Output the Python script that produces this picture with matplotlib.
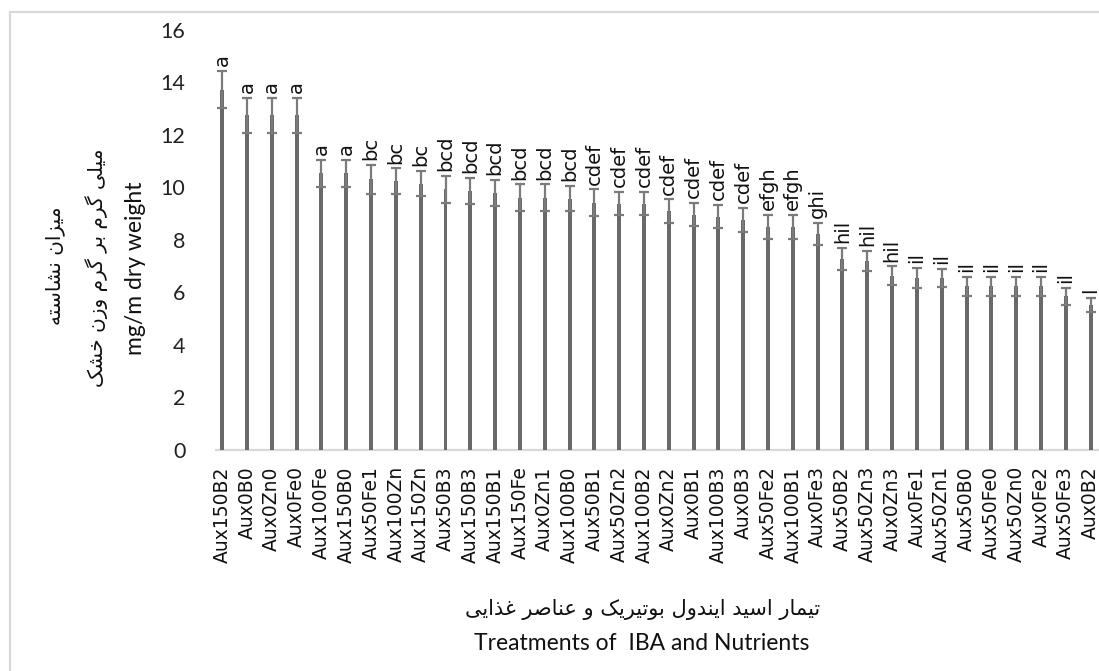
import numpy as np
import matplotlib
matplotlib.use("Agg")
import matplotlib.pyplot as plt
from matplotlib.patches import Rectangle


# ---------------------------------------------------------
# data
# ---------------------------------------------------------

treatments = [
    "Aux150B2", "Aux0B0", "Aux0Zn0", "Aux0Fe0", "Aux100Fe", "Aux150B0",
    "Aux50Fe1", "Aux100Zn", "Aux150Zn", "Aux50B3", "Aux150B3", "Aux150B1",
    "Aux150Fe", "Aux0Zn1", "Aux100B0", "Aux50B1", "Aux50Zn2", "Aux100B2",
    "Aux0Zn2", "Aux0B1", "Aux100B3", "Aux0B3", "Aux50Fe2", "Aux100B1",
    "Aux0Fe3", "Aux50B2", "Aux50Zn3", "Aux0Zn3", "Aux0Fe1", "Aux50Zn1",
    "Aux50B0", "Aux50Fe0", "Aux50Zn0", "Aux0Fe2", "Aux50Fe3", "Aux0B2",
]

starch = [
    13.73, 12.75, 12.75, 12.75, 10.53, 10.53, 10.30, 10.23, 10.14, 9.92,
    9.86, 9.78, 9.61, 9.61, 9.57, 9.42, 9.38, 9.38, 9.08, 8.95,
    8.88, 8.76, 8.48, 8.48, 8.21, 7.26, 7.20, 6.63, 6.54, 6.53,
    6.22, 6.22, 6.22, 6.22, 5.84, 5.51,
]

errors = [
    0.72, 0.66, 0.66, 0.66, 0.52, 0.52, 0.54, 0.49, 0.48, 0.51,
    0.51, 0.49, 0.50, 0.50, 0.48, 0.50, 0.45, 0.45, 0.46, 0.44,
    0.45, 0.47, 0.46, 0.46, 0.42, 0.42, 0.38, 0.35, 0.37, 0.35,
    0.35, 0.35, 0.35, 0.35, 0.32, 0.28,
]

groups = [
    "a", "a", "a", "a", "a", "a", "bc", "bc", "bc", "bcd",
    "bcd", "bcd", "bcd", "bcd", "bcd", "cdef", "cdef", "cdef", "cdef", "cdef",
    "cdef", "cdef", "efgh", "efgh", "ghi", "hil", "hil", "hil", "il", "il",
    "il", "il", "il", "il", "il", "l",
]

y_ticks = [0, 2, 4, 6, 8, 10, 12, 14, 16]

ylabel_fa_1 = "میزان نشاسته"
ylabel_fa_2 = "میلی گرم بر گرم وزن خشک"
ylabel_en = "mg/m dry weight"
xlabel_fa = "تیمار اسید ایندول بوتیریک و عناصر غذایی"
xlabel_en = "Treatments of  IBA and Nutrients"


# ---------------------------------------------------------
# minimal persian shaping (matplotlib has no text shaping)
# ---------------------------------------------------------

FORMS = {
    # iso, fin, ini, med
    "ا": ("\uFE8D", "\uFE8E", None, None),
    "د": ("\uFEA9", "\uFEAA", None, None),
    "ذ": ("\uFEAB", "\uFEAC", None, None),
    "ر": ("\uFEAD", "\uFEAE", None, None),
    "ز": ("\uFEAF", "\uFEB0", None, None),
    "و": ("\uFEED", "\uFEEE", None, None),
    "ب": ("\uFE8F", "\uFE90", "\uFE91", "\uFE92"),
    "ت": ("\uFE95", "\uFE96", "\uFE97", "\uFE98"),
    "خ": ("\uFEA5", "\uFEA6", "\uFEA7", "\uFEA8"),
    "س": ("\uFEB1", "\uFEB2", "\uFEB3", "\uFEB4"),
    "ش": ("\uFEB5", "\uFEB6", "\uFEB7", "\uFEB8"),
    "ص": ("\uFEB9", "\uFEBA", "\uFEBB", "\uFEBC"),
    "ع": ("\uFEC9", "\uFECA", "\uFECB", "\uFECC"),
    "غ": ("\uFECD", "\uFECE", "\uFECF", "\uFED0"),
    "ل": ("\uFEDD", "\uFEDE", "\uFEDF", "\uFEE0"),
    "م": ("\uFEE1", "\uFEE2", "\uFEE3", "\uFEE4"),
    "ن": ("\uFEE5", "\uFEE6", "\uFEE7", "\uFEE8"),
    "ه": ("\uFEE9", "\uFEEA", "\uFEEB", "\uFEEC"),
    "ی": ("\uFBFC", "\uFBFD", "\uFBFE", "\uFBFF"),
    "ک": ("\uFB8E", "\uFB8F", "\uFB90", "\uFB91"),
    "گ": ("\uFB92", "\uFB93", "\uFB94", "\uFB95"),
}


def shape_fa(text):
    out = []
    n = len(text)
    for i, ch in enumerate(text):
        if ch not in FORMS:
            out.append(ch)
            continue
        iso, fin, ini, med = FORMS[ch]
        prev = text[i - 1] if i > 0 else ""
        nxt = text[i + 1] if i < n - 1 else ""
        join_prev = prev in FORMS and FORMS[prev][2] is not None
        join_next = nxt in FORMS and ini is not None
        if join_prev and join_next:
            out.append(med)
        elif join_prev:
            out.append(fin)
        elif join_next:
            out.append(ini)
        else:
            out.append(iso)
    return "".join(out)[::-1]


# ---------------------------------------------------------
# figure
# ---------------------------------------------------------

W, H = 1099, 671
fig = plt.figure(figsize=(W / 100, H / 100), dpi=100)

# axes placed in pixels like the original
x0, x1 = 216, 1103
y0, y1 = 449.5, 30
ax = fig.add_axes([x0 / W, (H - y0) / H, (x1 - x0) / W, (y0 - y1) / H])

x = np.arange(len(treatments))
ax.bar(x, starch, width=0.16, color="#696969", zorder=2)
ax.errorbar(x, starch, yerr=errors, fmt="none", ecolor="#7b7b7b",
            elinewidth=1.6, capsize=3.4, capthick=1.6, zorder=3)

for xi, v, e, g in zip(x, starch, errors, groups):
    ax.annotate(g, (xi, v + e), xytext=(0, 3.5), textcoords="offset points",
                rotation=90, ha="center", va="bottom",
                fontsize=14, family="DejaVu Sans", color="#111111")

ax.set_xlim(-0.25, 35.5)
ax.set_ylim(0, 16)
ax.set_yticks(y_ticks)
ax.set_yticklabels([str(t) for t in y_ticks], family="Lato", fontsize=15.5,
                   color="#222222")
ax.set_xticks(x)
ax.set_xticklabels(treatments, rotation=90, family="DejaVu Sans",
                   fontsize=13.5, color="#111111")
ax.tick_params(axis="both", length=0)
ax.tick_params(axis="y", pad=22)
ax.tick_params(axis="x", pad=12)

for side in ["top", "right", "left"]:
    ax.spines[side].set_visible(False)
ax.spines["bottom"].set_color("#d9d9d9")
ax.spines["bottom"].set_linewidth(1.6)
ax.spines["bottom"].set_zorder(1)

# axis titles
fig.text(135 / W, 1 - 268 / H, ylabel_en, rotation=90, ha="center",
         va="center", family="Lato", fontsize=16.5, color="#111111")
fig.text(97 / W, 1 - 268 / H, shape_fa(ylabel_fa_2), rotation=90,
         ha="center", va="center", family="DejaVu Sans", fontsize=14.5,
         color="#111111")
fig.text(55 / W, 1 - 266 / H, shape_fa(ylabel_fa_1), rotation=90,
         ha="center", va="center", family="DejaVu Sans", fontsize=14.5,
         color="#111111")
fig.text(643 / W, 1 - 610 / H, shape_fa(xlabel_fa), ha="center",
         va="center", family="DejaVu Sans", fontsize=15, color="#111111")
fig.text(642 / W, 1 - 643 / H, xlabel_en, ha="center", va="center",
         family="Lato", fontsize=16.5, color="#111111")

# chart-area border (only left and top visible)
fig.patches.append(Rectangle((10 / W, -0.05), 1.1, (H - 12) / H + 0.05,
                             transform=fig.transFigure, fill=False,
                             edgecolor="#d9d9d9", linewidth=1.6))

fig.savefig("out.png", dpi=100)
